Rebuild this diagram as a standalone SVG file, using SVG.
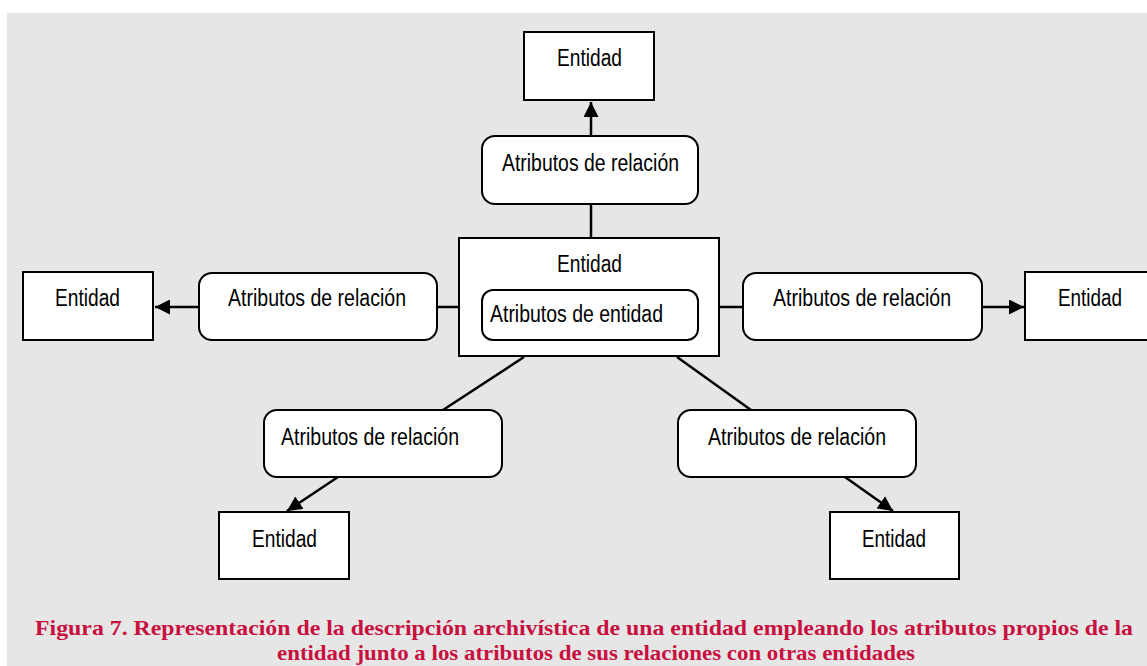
<svg xmlns="http://www.w3.org/2000/svg" width="1147" height="666" viewBox="0 0 1147 666">
<defs>
<style>
.ent{fill:#fff;stroke:#000;stroke-width:2}
.rel{fill:#fff;stroke:#000;stroke-width:2}
.t{font-family:"Liberation Sans",Arial,sans-serif;font-size:23px;fill:#000}
.c{stroke:#000;stroke-width:2.5;fill:none}
.cap{font-family:"Liberation Serif","Times New Roman",serif;font-weight:bold;font-size:22px;fill:#c8103f}
</style>
<marker id="ah" viewBox="0 0 10 10" refX="10" refY="5" markerWidth="6" markerHeight="6" markerUnits="strokeWidth" orient="auto">
<path d="M0,0 L10,5 L0,10 z" fill="#000"/>
</marker>
</defs>
<rect x="0" y="0" width="1147" height="666" fill="#fff"/>
<rect x="7" y="13" width="1140" height="653" fill="#e6e6e6"/>

<g id="connectors">
<line class="c" x1="591" y1="204" x2="591" y2="238"/>
<line class="c" x1="591" y1="136" x2="591" y2="102" marker-end="url(#ah)"/>
<line class="c" x1="437" y1="307" x2="459" y2="307"/>
<line class="c" x1="199" y1="307" x2="155" y2="307" marker-end="url(#ah)"/>
<line class="c" x1="719" y1="307" x2="743" y2="307"/>
<line class="c" x1="982" y1="307" x2="1024" y2="307" marker-end="url(#ah)"/>
<line class="c" x1="524" y1="357" x2="443" y2="410"/>
<line class="c" x1="338" y1="477" x2="287" y2="511" marker-end="url(#ah)"/>
<line class="c" x1="677" y1="357" x2="751" y2="410"/>
<line class="c" x1="845" y1="477" x2="893" y2="511" marker-end="url(#ah)"/>
</g>

<g id="center">
<rect class="ent" x="459" y="238" width="260" height="118"/>
<text class="t" x="557" y="272" textLength="65" lengthAdjust="spacingAndGlyphs">Entidad</text>
<g id="center-attr">
<rect class="rel" x="482" y="290" width="216" height="50" rx="11"/>
<text class="t" x="490" y="322" textLength="173" lengthAdjust="spacingAndGlyphs">Atributos de entidad</text>
</g>
</g>

<g id="rel-top">
<rect class="rel" x="482" y="136" width="216" height="68" rx="13"/>
<text class="t" x="502" y="171" textLength="177" lengthAdjust="spacingAndGlyphs">Atributos de relación</text>
</g>
<g id="ent-top">
<rect class="ent" x="524" y="32" width="130" height="68"/>
<text class="t" x="557" y="66" textLength="65" lengthAdjust="spacingAndGlyphs">Entidad</text>
</g>

<g id="rel-left">
<rect class="rel" x="199" y="273" width="238" height="67" rx="13"/>
<text class="t" x="228" y="306" textLength="178" lengthAdjust="spacingAndGlyphs">Atributos de relación</text>
</g>
<g id="ent-left">
<rect class="ent" x="23" y="272" width="130" height="68"/>
<text class="t" x="55" y="306" textLength="65" lengthAdjust="spacingAndGlyphs">Entidad</text>
</g>

<g id="rel-right">
<rect class="rel" x="743" y="273" width="239" height="67" rx="13"/>
<text class="t" x="773" y="306" textLength="178" lengthAdjust="spacingAndGlyphs">Atributos de relación</text>
</g>
<g id="ent-right">
<rect class="ent" x="1025" y="272" width="130" height="68"/>
<text class="t" x="1058" y="306" textLength="64" lengthAdjust="spacingAndGlyphs">Entidad</text>
</g>

<g id="rel-lowleft">
<rect class="rel" x="264" y="410" width="238" height="67" rx="13"/>
<text class="t" x="281" y="445" textLength="178" lengthAdjust="spacingAndGlyphs">Atributos de relación</text>
</g>
<g id="ent-lowleft">
<rect class="ent" x="219" y="512" width="130" height="67"/>
<text class="t" x="252" y="547" textLength="65" lengthAdjust="spacingAndGlyphs">Entidad</text>
</g>

<g id="rel-lowright">
<rect class="rel" x="678" y="410" width="238" height="67" rx="13"/>
<text class="t" x="708" y="445" textLength="178" lengthAdjust="spacingAndGlyphs">Atributos de relación</text>
</g>
<g id="ent-lowright">
<rect class="ent" x="830" y="512" width="129" height="67"/>
<text class="t" x="862" y="547" textLength="64" lengthAdjust="spacingAndGlyphs">Entidad</text>
</g>

<g id="caption">
<text class="cap" x="35" y="635" textLength="1098" lengthAdjust="spacingAndGlyphs">Figura 7. Representación de la descripción archivística de una entidad empleando los atributos propios de la</text>
<text class="cap" x="277" y="660" textLength="638" lengthAdjust="spacingAndGlyphs">entidad junto a los atributos de sus relaciones con otras entidades</text>
</g>
</svg>
